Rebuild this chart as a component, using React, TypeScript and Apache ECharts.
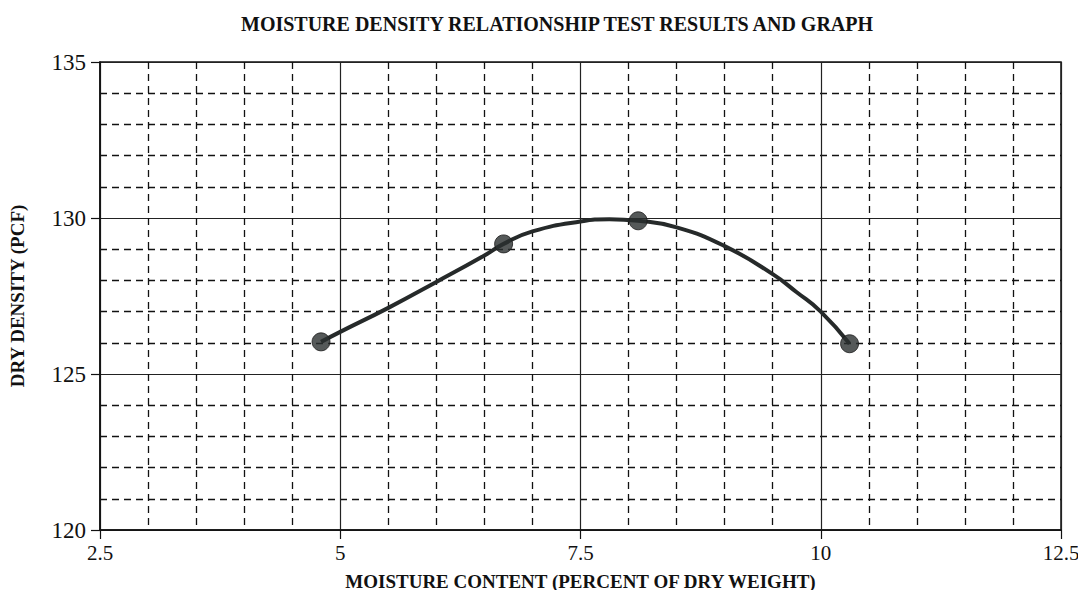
import React, { useEffect, useRef } from "react";
import * as echarts from "echarts";

const titleText = "MOISTURE DENSITY RELATIONSHIP TEST RESULTS AND GRAPH";
const xAxisName = "MOISTURE CONTENT (PERCENT OF DRY WEIGHT)";
const yAxisName = "DRY DENSITY (PCF)";

// Test points
const moisture = [4.8, 6.7, 8.1, 10.3];
const density = [126.03, 129.17, 129.91, 125.97];

// Fitted curve
const curveMoisture = [4.8, 5.0, 5.5, 6.0, 6.5, 6.7, 7.0, 7.5, 7.8, 8.1, 8.5, 9.0, 9.5, 9.75, 10.0, 10.3];
const curveDensity = [126.03, 126.35, 127.12, 127.95, 128.8, 129.17, 129.57, 129.89, 129.96, 129.91, 129.7, 129.1, 128.2, 127.62, 127.0, 125.97];

const xTicks = { min: 2.5, max: 12.5, interval: 2.5 };
const yTicks = { min: 120, max: 135, interval: 5 };

const FONT = "'Liberation Serif', 'Times New Roman', serif";

export default function App() {
  const ref = useRef<HTMLDivElement>(null);
  useEffect(() => {
    if (!ref.current) return;
    const chart = echarts.init(ref.current, undefined, { renderer: "svg" });
    const axisCommon = {
      axisLine: { show: true, lineStyle: { color: "#111", width: 1.5 } },
      axisTick: { show: true, length: 9, lineStyle: { color: "#111", width: 1.2 } },
      splitLine: { show: true, lineStyle: { color: "#222", width: 1.2, type: "solid" } },
      minorTick: { show: false, splitNumber: 5 },
      minorSplitLine: { show: true, lineStyle: { color: "#111", width: 1.3, type: [7, 5] } },
    };
    chart.setOption({
      animation: false,
      backgroundColor: "#ffffff",
      title: {
        text: titleText,
        left: 236,
        top: 9,
        textStyle: { fontFamily: FONT, fontSize: 20, fontWeight: "bold", color: "#111" },
      },
      grid: {
        left: 99,
        right: 25,
        top: 62,
        bottom: 68,
        show: true,
        borderColor: "#111",
        borderWidth: 1.5,
        backgroundColor: "transparent",
      },
      xAxis: {
        type: "value",
        min: xTicks.min,
        max: xTicks.max,
        interval: xTicks.interval,
        name: xAxisName,
        nameLocation: "middle",
        nameGap: 42,
        nameTextStyle: { fontFamily: FONT, fontSize: 19, fontWeight: "bold", color: "#111" },
        axisLabel: { fontFamily: FONT, fontSize: 21, color: "#111", margin: 12 },
        ...axisCommon,
      },
      yAxis: {
        type: "value",
        min: yTicks.min,
        max: yTicks.max,
        interval: yTicks.interval,
        name: yAxisName,
        nameLocation: "middle",
        nameRotate: 90,
        nameGap: 73,
        nameTextStyle: { fontFamily: FONT, fontSize: 19, fontWeight: "bold", color: "#111" },
        axisLabel: { fontFamily: FONT, fontSize: 23, color: "#111", margin: 14 },
        ...axisCommon,
      },
      series: [
        {
          type: "line",
          data: curveMoisture.map((x, i) => [x, curveDensity[i]]),
          smooth: 0.5,
          showSymbol: false,
          lineStyle: { color: "#262a2a", width: 4 },
          z: 3,
        },
        {
          type: "scatter",
          data: moisture.map((x, i) => [x, density[i]]),
          symbol: "circle",
          symbolSize: 18,
          itemStyle: { color: "#2b2f2f", borderColor: "#1a1a1a", borderWidth: 1 },
          z: 4,
        },
      ],
    });
    return () => chart.dispose();
  }, []);
  return <div ref={ref} style={{ width: 1086, height: 598, margin: -8 }} />;
}
